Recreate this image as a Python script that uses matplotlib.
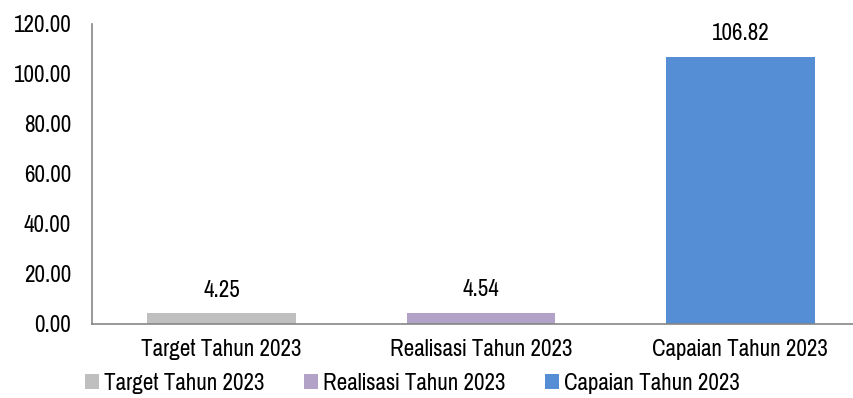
import matplotlib
matplotlib.use("Agg")
import matplotlib.pyplot as plt
from matplotlib.patches import Patch

categories = ["Target Tahun 2023", "Realisasi Tahun 2023", "Capaian Tahun 2023"]
values = [4.25, 4.54, 106.82]
colors = ["#BFBFBF", "#B3A2C7", "#558ED5"]
yticks = [0, 20, 40, 60, 80, 100, 120]

plt.rcParams['font.family'] = ['Pragati Narrow', 'Roboto Condensed', 'DejaVu Sans']
FS = 18

W, H = 854, 398
fig = plt.figure(figsize=(W / 100, H / 100), dpi=100)
left, right, bottom, top = 92, 870, 324, 24
ax = fig.add_axes([left / W, 1 - bottom / H, (right - left) / W, (bottom - top) / H])

x = list(range(len(categories)))
bars = ax.bar(x, values, width=0.574, color=colors, zorder=2)
for xi, v in zip(x, values):
    ax.annotate(f"{v:.2f}", (xi, v), xytext=(0, 12), textcoords="offset points",
                ha="center", va="baseline", fontsize=FS, color="#000000")

ax.set_xlim(-0.5, 2.5)
ax.set_ylim(0, 120)
ax.set_yticks(yticks)
ax.set_yticklabels([f"{t:.2f}" for t in yticks], fontsize=FS)
ax.set_xticks(x)
ax.set_xticklabels(categories, fontsize=FS)
ax.tick_params(axis="both", length=0)
ax.tick_params(axis="y", pad=15)
ax.tick_params(axis="x", pad=11)
for s in ["top", "right"]:
    ax.spines[s].set_visible(False)
for s in ["left", "bottom"]:
    ax.spines[s].set_color("#868686")
    ax.spines[s].set_linewidth(1.2)

handles = [Patch(facecolor=c, edgecolor="none") for c in colors]
fig.legend(handles, categories, loc="center left", bbox_to_anchor=(85 / W, 1 - 384 / H),
           ncol=3, frameon=False, fontsize=FS, handlelength=0.55, handleheight=0.55,
           handletextpad=0.2, columnspacing=1.6, borderpad=0, borderaxespad=0)

fig.savefig("out.png", dpi=100)
